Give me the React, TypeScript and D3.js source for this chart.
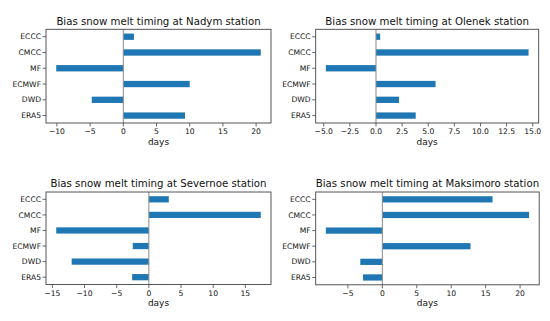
import React from "react";
import * as d3 from "d3";

const categories = ["ERA5", "DWD", "ECMWF", "MF", "CMCC", "ECCC"];
const stations = ["Nadym", "Olenek", "Severnoe", "Maksimoro"];
const nadymValues = [9.3, -4.75, 10.0, -10.1, 20.7, 1.6];
const olenekValues = [3.8, 2.2, 5.7, -4.8, 14.6, 0.4];
const severnoeValues = [-2.6, -12.0, -2.5, -14.4, 17.4, 3.1];
const maksimoroValues = [-2.8, -3.2, 12.8, -8.2, 21.3, 16.0];
const nadymTicks = [-10, -5, 0, 5, 10, 15, 20];
const olenekTicks = [-5, -2.5, 0, 2.5, 5, 7.5, 10, 12.5, 15];
const severnoeTicks = [-15, -10, -5, 0, 5, 10, 15];
const maksimoroTicks = [-5, 0, 5, 10, 15, 20];
const tickDecimals = [0, 1, 0, 0];

const panels = [
  { x: 46, y: 29.3, w: 225, h: 93.7 },
  { x: 315.7, y: 29.3, w: 223, h: 93.7 },
  { x: 46, y: 192, w: 225, h: 92.5 },
  { x: 315.7, y: 192, w: 223.5, h: 92.8 },
];

const seriesValues = [nadymValues, olenekValues, severnoeValues, maksimoroValues];
const seriesTicks = [nadymTicks, olenekTicks, severnoeTicks, maksimoroTicks];

const FONT = "DejaVu Sans, sans-serif";
const BAR = "#1f77b4";
const MINUS = "\u2212";

function Panel({ idx }: { idx: number }) {
  const p = panels[idx];
  const vals = seriesValues[idx];
  const lo = Math.min(0, d3.min(vals)!);
  const hi = Math.max(0, d3.max(vals)!);
  const m = (hi - lo) * 0.05;
  const x = d3.scaleLinear().domain([lo - m, hi + m]).range([p.x, p.x + p.w]);
  const bh = 0.4;
  const ylo = -bh / 2, yhi = categories.length - 1 + bh / 2;
  const ym = (yhi - ylo) * 0.05;
  const y = d3.scaleLinear().domain([ylo - ym, yhi + ym]).range([p.y + p.h, p.y]);
  const dec = tickDecimals[idx];
  const fmt = (v: number) => {
    const s = v.toFixed(dec);
    return s.startsWith("-") ? MINUS + s.slice(1) : s;
  };
  return (
    <g>
      <text x={p.x + p.w / 2} y={p.y - 4.8} textAnchor="middle" fontSize={10.2} fontFamily={FONT} fill="#111">
        {`Bias snow melt timing at ${stations[idx]} station`}
      </text>
      {categories.map((c, i) => {
        const v = vals[i];
        return (
          <rect key={c} x={x(Math.min(0, v))} width={Math.abs(x(v) - x(0))}
            y={y(i + bh / 2)} height={y(i - bh / 2) - y(i + bh / 2)} fill={BAR} />
        );
      })}
      <line x1={x(0)} x2={x(0)} y1={p.y} y2={p.y + p.h} stroke="#8a8a8a" strokeWidth={1} />
      <rect x={p.x} y={p.y} width={p.w} height={p.h} fill="none" stroke="#444" strokeWidth={0.9} />
      {categories.map((c, i) => (
        <g key={c}>
          <line x1={p.x - 3.5} x2={p.x} y1={y(i)} y2={y(i)} stroke="#444" strokeWidth={0.8} />
          <text x={p.x - 5} y={y(i)} dy="0.35em" textAnchor="end" fontSize={7.6} fontFamily={FONT} fill="#111">{c}</text>
        </g>
      ))}
      {seriesTicks[idx].map((t) => (
        <g key={t}>
          <line x1={x(t)} x2={x(t)} y1={p.y + p.h} y2={p.y + p.h + 3.5} stroke="#444" strokeWidth={0.8} />
          <text x={x(t)} y={p.y + p.h + 11.3} textAnchor="middle" fontSize={7.6} fontFamily={FONT} fill="#111">{fmt(t)}</text>
        </g>
      ))}
      <text x={p.x + p.w / 2} y={p.y + p.h + 21.5} textAnchor="middle" fontSize={9} fontFamily={FONT} fill="#111">days</text>
    </g>
  );
}

export default function App() {
  return (
    <svg width={550} height={321} style={{ position: "absolute", left: 0, top: 0, background: "#fff" }}>
      {panels.map((_, i) => <Panel key={i} idx={i} />)}
    </svg>
  );
}
